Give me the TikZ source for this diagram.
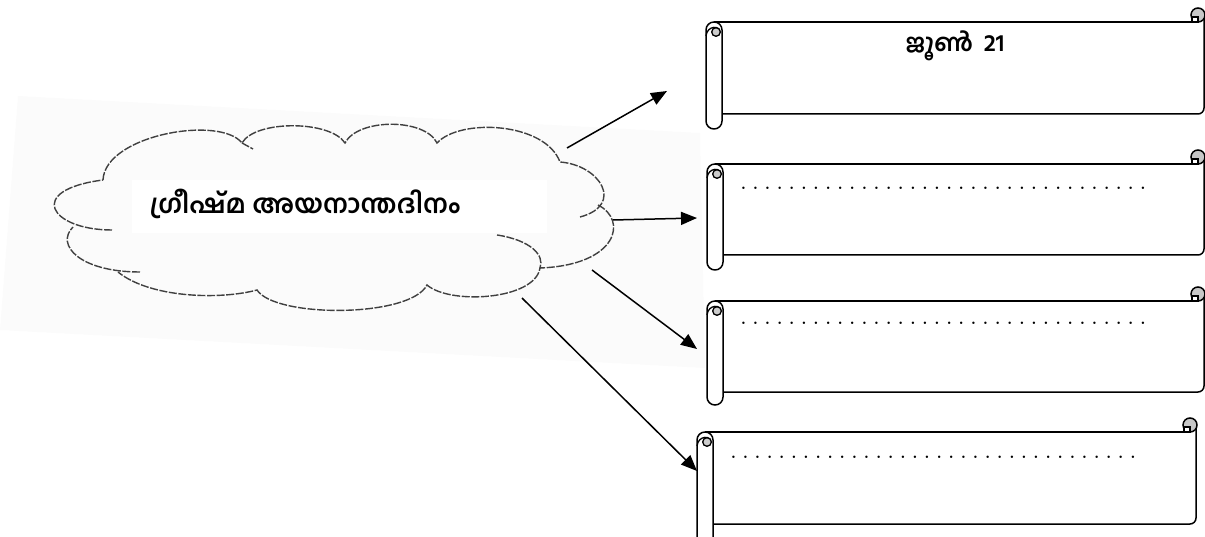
\documentclass[tikz,border=0pt]{standalone}
\usepackage{fontspec}
\usetikzlibrary{arrows.meta}
\newfontfamily\mlfont[Script=Malayalam]{Hind Kochi}
\tikzset{
  scr/.style={line width=1.5pt, draw=black},
  conn/.style={line width=1.5pt, -{Triangle[length=16pt,width=13pt]}},
  cloudline/.style={draw=black!75, line width=1.4pt, dash pattern=on 8pt off 1.6pt},
  lbl/.style={font=\mlfont\bfseries\fontsize{26}{30}\selectfont, inner sep=0pt},
  dotrow/.style={font=\bfseries\fontsize{17}{19}\selectfont, inner sep=0pt, anchor=west}
}
\newcommand\scrollbox[6]{% #1 name, #2 L, #3 T, #4 R, #5 B, #6 roll bottom
  \draw[scr] ({#2+8},#3) -- ({#4-10},#3);
  \draw[scr,rounded corners=6pt] ({#4+1},{#3-9}) -- ({#4+1},#5) -- ({#2+16},#5);
  \draw[scr,fill=black!22] ({#4-5},{#3-7}) circle[radius=7pt];
  \draw[line width=1.1pt,fill=white] ({#4-11},{#3-5}) rectangle ({#4-5},#3);
  \draw[scr,fill=white,rounded corners=7.9pt] (#2,#3) rectangle ({#2+16},#6);
  \draw[line width=1.3pt] (#2,{#3+14}) .. controls ({#2+1},{#3+3}) and ({#2+15},{#3+3}) .. ({#2+14},{#3+11});
  \draw[line width=1.3pt,fill=black!20] ({#2+10},{#3+10}) circle[radius=4.3pt];
  \coordinate (#1) at ({(#2+#4)/2},{(#3+#5)/2});
}
\newcommand\dotline{\hbox to 412pt{\xleaders\hbox to 11.8pt{\hss.\hss}\hfill}}
\begin{document}
\begin{tikzpicture}[x=1pt,y=-1pt]
\useasboundingbox (0,0) rectangle (1205,537);
% faint scanned background of the cloud
\fill[black!1.5] (18,96) -- (700,133) -- (705,368) -- (0,330) -- cycle;
\fill[white] (132,180) rectangle (547,233);
% cloud
\draw[cloudline]
  (103,180) .. controls (105,135) and (220,115) .. (242,143)
  .. controls (255,120) and (330,120) .. (345,143)
  .. controls (358,118) and (425,118) .. (437,143)
  .. controls (460,118) and (545,122) .. (560,162)
  .. controls (600,165) and (625,205) .. (580,217);
\draw[cloudline] (598,205) .. controls (628,220) and (618,265) .. (540,268)
  .. controls (535,300) and (450,305) .. (427,285)
  .. controls (410,318) and (275,318) .. (257,290)
  .. controls (220,300) and (150,298) .. (118,272);
\draw[cloudline] (497,235) .. controls (530,240) and (545,255) .. (540,268);
\draw[cloudline] (140,272) .. controls (80,272) and (55,245) .. (73,227);
\draw[cloudline] (112,230) .. controls (50,230) and (25,190) .. (103,180);
\draw[cloudline] (242,143) -- (253,149);
\node[lbl] (title) at (305,204) {ഗ്രീഷ്മ അയനാന്തദിനം};
% scrolls
\scrollbox{s1}{706}{22}{1203}{114}{129}
\scrollbox{s2}{707}{164}{1203}{255}{270}
\scrollbox{s3}{707}{301}{1203}{392}{405}
\scrollbox{s4}{697}{432}{1195}{524}{545}
\node[lbl, font=\mlfont\bfseries\fontsize{24}{28}\selectfont] (date) at (955,46) {ജൂൺ\hspace{0.45em}21};
\node[dotrow] (d2) at (737,188) {\dotline};
\node[dotrow] (d3) at (737,323) {\dotline};
\node[dotrow] (d4) at (727,457) {\dotline};
% connectors
\coordinate (c1) at (567,148);
\coordinate (c2) at (613,220);
\coordinate (c3) at (592,270);
\coordinate (c4) at (522,298);
\coordinate (e1) at (667,91);
\coordinate (e2) at (697,218);
\coordinate (e3) at (697,349);
\coordinate (e4) at (697,471);
\draw[conn] (c1) -- (e1);
\draw[conn] (c2) -- (e2);
\draw[conn] (c3) -- (e3);
\draw[conn] (c4) -- (e4);
\end{tikzpicture}
\end{document}
